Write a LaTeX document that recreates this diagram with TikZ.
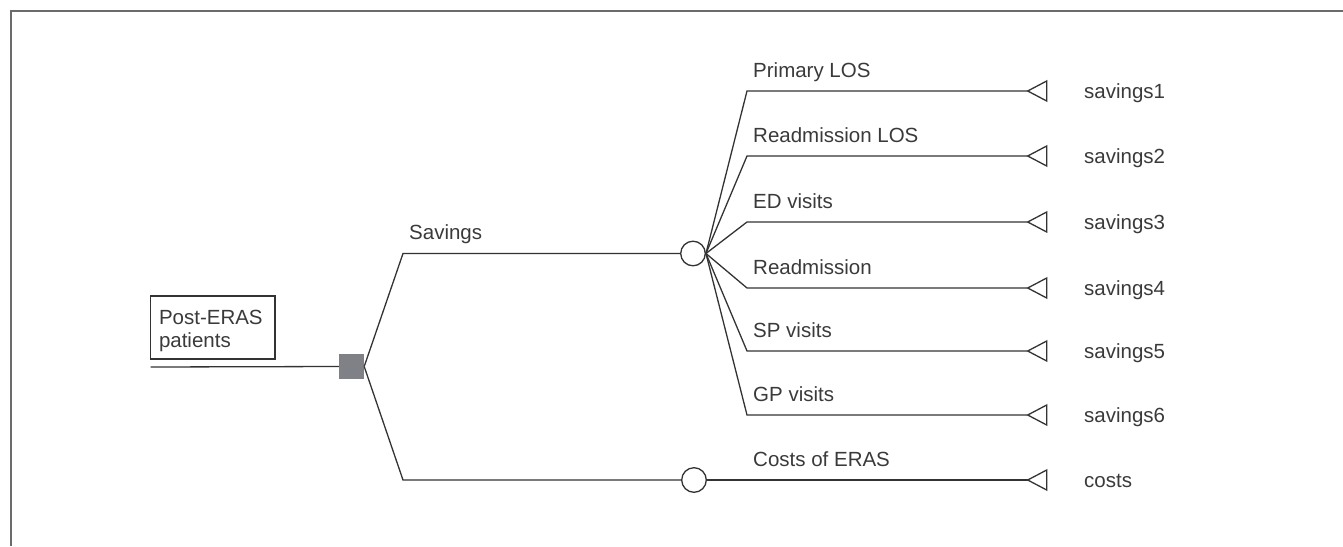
\documentclass[tikz,border=0pt]{standalone}
\usepackage{fontspec}
\setmainfont{Liberation Sans}
\definecolor{ink}{HTML}{333333}
\definecolor{txt}{HTML}{3A3A3A}
\definecolor{framegray}{HTML}{6B6B6B}
\definecolor{decfill}{HTML}{808186}
\begin{document}
\begin{tikzpicture}[x=1pt,y=-1pt,
  branch/.style={draw=ink, line width=1.3pt},
  lbl/.style={anchor=base west, inner sep=0pt, text=txt, font=\fontsize{20.5}{23}\selectfont},
  chance/.style={circle, draw=ink, line width=1.3pt, fill=white, minimum size=24.6pt, inner sep=0pt},
  decision/.style={rectangle, fill=decfill, minimum size=25pt, inner sep=0pt},
  rootbox/.style={rectangle, draw=ink, line width=1.3pt, minimum width=124.3pt, minimum height=63pt,
    text width=107.7pt, inner xsep=8.3pt, inner ysep=0pt, align=left, text=txt,
    font=\fontsize{20.5}{23}\selectfont},
  tri/.style={draw=ink, line width=1.3pt, line join=miter}]
\useasboundingbox (0,0) rectangle (1343,546);

% outer frame (top and left edges)
\draw[framegray, line width=2.2pt] (11,546) -- (11,11) -- (1343,11);

% root and decision node
\node[rootbox] (box) at (212.85,327.5) {\rule{0pt}{22pt}Post-ERAS\\patients};
\coordinate (root) at (150.7,367);
\node[decision] (dec) at (351.5,366.5) {};
\draw[branch] (root) -- (dec.west);

% chance nodes
\node[chance] (c1) at (693,253.5) {};
\node[chance] (c2) at (694,480) {};
\coordinate (s1) at (403,253.5);
\coordinate (s2) at (403,480);
\draw[branch] (dec.east) -- (s1) -- (c1.west);
\draw[branch] (dec.east) -- (s2) -- (c2.west);
\node[lbl] (lsav) at (409,239.5) {Savings};

% savings branches
\foreach \i/\y/\name/\val in {1/91/Primary LOS/savings1, 2/156/Readmission LOS/savings2,
    3/222/ED visits/savings3, 4/288/Readmission/savings4, 5/351/SP visits/savings5,
    6/415/GP visits/savings6} {
  \coordinate (k\i) at (747,\y);
  \coordinate (t\i) at (1027.7,\y);
  \draw[branch] (c1.east) -- (k\i) -- (t\i);
  \draw[tri] (t\i) -- ++(19,-10) -- ++(0,20) -- cycle;
  \node[lbl] (b\i) at (753,\y-14) {\name};
  \node[lbl] (v\i) at (1084,\y+7.3) {\val};
}

% costs branch
\coordinate (t7) at (1027.7,480);
\draw[branch] (c2.east) -- (t7);
\draw[tri] (t7) -- ++(19,-10) -- ++(0,20) -- cycle;
\node[lbl] (b7) at (753,466) {Costs of ERAS};
\node[lbl] (v7) at (1084,487.3) {costs};
\end{tikzpicture}
\end{document}
